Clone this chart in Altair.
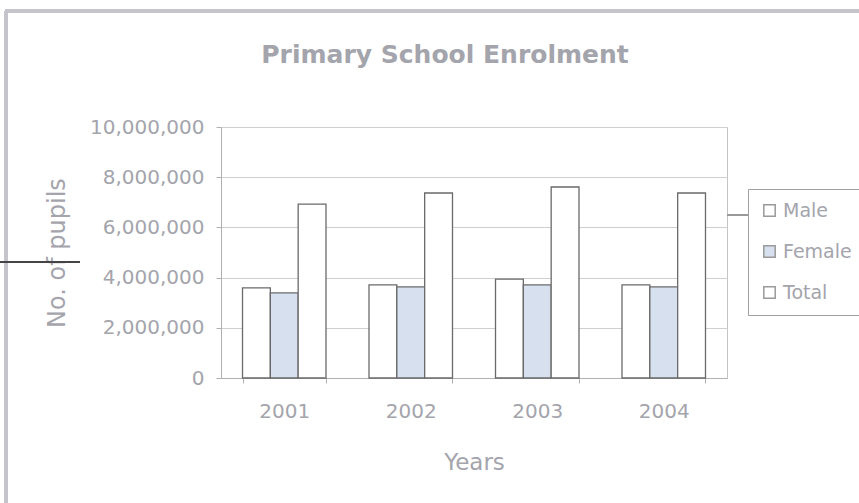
import altair as alt
import pandas as pd

years = ["2001", "2002", "2003", "2004"]
series = ["Male", "Female", "Total"]
male = [3590000, 3710000, 3940000, 3710000]
female = [3390000, 3630000, 3710000, 3630000]
total = [6930000, 7370000, 7610000, 7370000]
y_ticks = [0, 2000000, 4000000, 6000000, 8000000, 10000000]

rows = []
for i, yr in enumerate(years):
    for s, vals in zip(series, [male, female, total]):
        rows.append({"Year": yr, "Series": s, "Pupils": vals[i]})
df = pd.DataFrame(rows)

GRAY = "#a4a4ac"
FONT = "DejaVu Sans"

bars = alt.Chart(df).mark_bar(stroke="#6a6a6a", strokeWidth=1.3).encode(
    x=alt.X("Year:N", title="Years", sort=years,
            scale=alt.Scale(paddingInner=0.34, paddingOuter=0.17),
            axis=alt.Axis(labelAngle=0, labelFontSize=20, labelFont=FONT, labelColor=GRAY,
                          labelPadding=18, tickBand="extent", tickSize=5, tickColor="#b0b0b0",
                          domainColor="#b0b0b0", titleFontSize=23, titleFont=FONT,
                          titleColor=GRAY, titleFontWeight="normal", titlePadding=30)),
    xOffset=alt.XOffset("Series:N", sort=series, scale=alt.Scale(paddingInner=0, paddingOuter=0)),
    y=alt.Y("Pupils:Q", title="No. of pupils",
            scale=alt.Scale(domain=[0, 10000000], nice=False),
            axis=alt.Axis(values=y_ticks, format=",d", labelFontSize=20, labelFont=FONT,
                          labelColor=GRAY, labelPadding=12, tickSize=5, tickColor="#b0b0b0",
                          domainColor="#b0b0b0", gridColor="#cfcfcf", titleFontSize=24,
                          titleFont=FONT, titleColor=GRAY, titleFontWeight="normal",
                          titlePadding=20)),
    color=alt.Color("Series:N", sort=series,
                    scale=alt.Scale(domain=series, range=["#ffffff", "#d6e0ee", "#ffffff"]),
                    legend=alt.Legend(title=None, orient="none", legendX=527, legendY=62,
                                      symbolType="square", symbolSize=130,
                                      symbolStrokeColor="#9a9a9a", symbolStrokeWidth=1.5,
                                      labelFontSize=19, labelFont=FONT, labelColor=GRAY,
                                      rowPadding=21, padding=12, strokeColor="#a0a0a0",
                                      fillColor="#ffffff")),
)

frame_top = alt.Chart(df).mark_rule(color="#c4c4ca", strokeWidth=2.5).encode(
    x=alt.value(-216), x2=alt.value(640), y=alt.value(-116))
frame_left = alt.Chart(df).mark_rule(color="#c4c4ca", strokeWidth=2.5).encode(
    x=alt.value(-215), y=alt.value(-116), y2=alt.value(380))
leader_left = alt.Chart(df).mark_rule(color="#444444", strokeWidth=1).encode(
    x=alt.value(-221), x2=alt.value(-141), y=alt.value(135))
leader_legend = alt.Chart(df).mark_rule(color="#999999", strokeWidth=2).encode(
    x=alt.value(506), x2=alt.value(527), y=alt.value(88))

chart = alt.layer(bars, frame_top, frame_left, leader_left, leader_legend).properties(
    width=506, height=251,
    title=alt.Title("Primary School Enrolment", fontSize=25, font=FONT, fontWeight="bold",
                    color=GRAY, anchor="middle", frame="group", dx=-29, offset=-78,
                    baseline="alphabetic"),
    autosize=alt.AutoSizeParams(type="none"),
    padding={"left": 221, "top": 127, "right": 132, "bottom": 125},
    background="#ffffff",
).configure_view(stroke="#c4c4c4")

chart.save("out.html", embed_options={"renderer": "svg", "actions": False})
